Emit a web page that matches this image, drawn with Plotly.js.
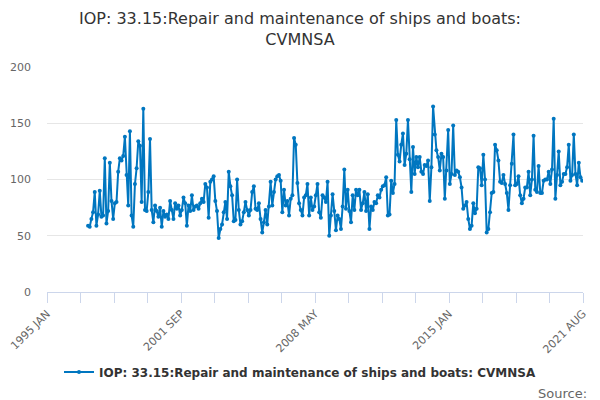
<!DOCTYPE html>
<html>
<head>
<meta charset="utf-8">
<script src="https://cdn.plot.ly/plotly-3.0.1.min.js"></script>
<style>
  html, body { margin: 0; padding: 0; background: #fff; }
  #chart { width: 600px; height: 400px; }
</style>
</head>
<body>
<div id="chart"></div>
<script>
const monthNames = ['JAN', 'FEB', 'MAR', 'APR', 'MAY', 'JUN', 'JUL', 'AUG', 'SEP', 'OCT', 'NOV', 'DEC'];

// axis runs 1995 JAN .. 2021 AUG, series starts 1997 JAN
let months = [];
for (let y = 1995; y <= 2021; y++) {
    for (let m = 0; m < 12; m++) {
        if (y === 2021 && m > 7) break;
        months.push(y + ' ' + monthNames[m]);
    }
}
const seriesStart = '1997 JAN';

const values = [
    59, 58, 65, 71, 89, 59, 69, 90, 67, 68, 119, 61, 72, 115, 81, 65, 79, 80, 107, 119,
    117, 121, 138, 104, 77, 143, 68, 58, 96, 110, 134, 130, 80, 163, 73, 72, 89, 136,
    73, 62, 77, 72, 67, 75, 58, 72, 67, 69, 65, 81, 73, 65, 79, 74, 77, 68, 73, 84,
    79, 59, 77, 72, 86, 73, 76, 77, 74, 79, 83, 80, 96, 93, 66, 98, 100, 103, 81,
    72, 48, 56, 60, 71, 80, 65, 107, 94, 86, 63, 64, 100, 73, 60, 63, 71, 80, 73, 68,
    73, 89, 94, 74, 73, 79, 65, 53, 62, 73, 60, 76, 98, 77, 89, 100, 103, 104, 99, 71,
    91, 77, 81, 68, 83, 86, 137, 131, 97, 79, 73, 68, 84, 86, 96, 68, 84, 73, 76, 86,
    96, 71, 66, 86, 84, 80, 98, 50, 68, 87, 72, 55, 68, 65, 56, 76, 109,
    74, 91, 72, 62, 86, 73, 91, 86, 91, 73, 79, 89, 72, 87, 56, 76, 73, 80, 79, 86,
    84, 91, 94, 95, 102, 68, 69, 99, 88, 96, 153, 122, 116, 131, 141, 113, 123, 153, 118, 89, 129,
    105, 120, 111, 120, 107, 105, 113, 112, 117, 81, 111, 165, 140, 126, 120, 108, 123, 120, 83, 108,
    144, 96, 105, 148, 104, 108, 107, 102, 93, 74, 77, 80, 65, 56, 59, 79, 70, 74, 111, 110,
    95, 122, 100, 53, 56, 71, 88, 89, 131, 126, 117, 98, 97, 104, 96, 88, 73, 95, 114, 140,
    95, 96, 103, 86, 79, 83, 93, 93, 107, 86, 100, 139,
    91, 89, 112, 88, 88, 99, 100, 100, 107, 96, 109, 154, 83, 104, 125, 95, 98, 105, 105, 111,
    131, 99, 104, 140, 105, 95, 115, 102, 99
];

const tickLabels = ['1995 JAN', '2001 SEP', '2008 MAY', '2015 JAN', '2021 AUG'];
const yTicks = [0, 50, 100, 150, 200];

const seriesName = 'IOP: 33.15:Repair and maintenance of ships and boats: CVMNSA';
const font = '"DejaVu Sans", Verdana, sans-serif';

// pad the months before the series starts
let offset = months.indexOf(seriesStart);
let yData = months.map((m, i) => i < offset ? null : values[i - offset]);

// a tick every 20 months, a label every 4th tick
let tickvals = [], ticktext = [];
for (let k = 0; k * 20 <= months.length; k++) {
    tickvals.push(k * 20 - 0.5);
    ticktext.push(k % 4 === 0 ? tickLabels[k / 4] : '');
}

Plotly.newPlot('chart', [{
    x: months,
    y: yData,
    type: 'scatter',
    mode: 'lines+markers',
    name: seriesName,
    line: {color: '#0076c0', width: 2},
    marker: {color: '#0076c0', size: 4},
    connectgaps: false
}], {
    width: 600,
    height: 400,
    margin: {l: 47, r: 17, t: 67, b: 108},
    paper_bgcolor: '#ffffff',
    plot_bgcolor: '#ffffff',
    font: {family: font, color: '#333333'},
    title: {
        text: 'IOP: 33.15:Repair and maintenance of ships and boats:<br>CVMNSA',
        font: {family: font, size: 16, color: '#333333'},
        x: 0.5, xanchor: 'center',
        y: 0.94, yanchor: 'top'
    },
    xaxis: {
        type: 'category',
        range: [-0.5, months.length - 0.5],
        tickmode: 'array',
        tickvals: tickvals,
        ticktext: ticktext,
        tickangle: -45,
        ticks: 'outside',
        ticklen: 10,
        tickcolor: '#ccd6eb',
        showline: true,
        linecolor: '#ccd6eb',
        showgrid: false,
        zeroline: false,
        tickfont: {family: font, size: 11, color: '#666666'}
    },
    yaxis: {
        range: [0, 200],
        tickmode: 'array',
        tickvals: yTicks,
        showgrid: true,
        gridcolor: '#e6e6e6',
        zeroline: false,
        ticks: '',
        ticklabelstandoff: 15,
        tickfont: {family: font, size: 11, color: '#666666'}
    },
    showlegend: true,
    legend: {
        orientation: 'h',
        xref: 'container', x: 0.5, xanchor: 'center',
        yref: 'container', y: 0.07, yanchor: 'middle',
        font: {family: font, size: 12, color: '#333333', weight: 'bold'}
    },
    annotations: [{
        text: 'Source:',
        xref: 'paper', yref: 'paper',
        x: 1.012, y: -0.45,
        xanchor: 'right', yanchor: 'middle',
        showarrow: false,
        font: {family: font, size: 13, color: '#666666'}
    }]
}, {staticPlot: true});
</script>
</body>
</html>
